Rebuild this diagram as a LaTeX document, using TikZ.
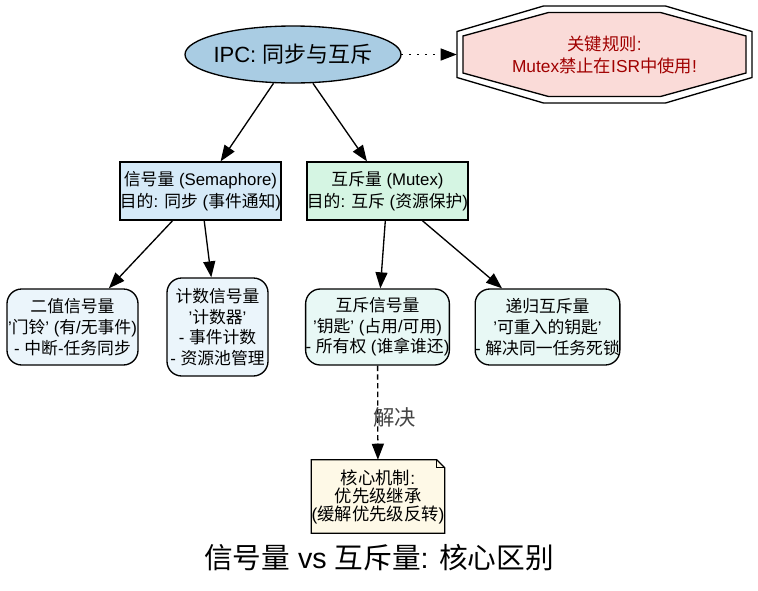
\documentclass[tikz,border=0pt]{standalone}
\usepackage{fontspec}
\setmainfont{Liberation Sans}
\newfontfamily\cjk{Noto Sans CJK SC}
\XeTeXinterchartokenstate=1
\newXeTeXintercharclass\hanclass
\count255="4E00
\loop\XeTeXcharclass\count255=\hanclass\ifnum\count255<"9FFF \advance\count255 by 1 \repeat
\XeTeXinterchartoks 0 \hanclass = {\begingroup\cjk}
\XeTeXinterchartoks 4095 \hanclass = {\begingroup\cjk}
\XeTeXinterchartoks \hanclass 0 = {\endgroup}
\XeTeXinterchartoks \hanclass 4095 = {\endgroup}
\usetikzlibrary{arrows.meta,backgrounds}
\definecolor{ipcblue}{HTML}{A9CCE3}
\definecolor{semblue}{HTML}{D6EAF8}
\definecolor{mutgreen}{HTML}{D5F5E3}
\definecolor{semleaf}{HTML}{EBF5FB}
\definecolor{mutleaf}{HTML}{E8F8F5}
\definecolor{rulepink}{HTML}{FADBD8}
\definecolor{rulered}{HTML}{A00000}
\definecolor{notecream}{HTML}{FEF9E7}
\definecolor{labelgray}{HTML}{444444}

\begin{document}
\begin{tikzpicture}[x=0.75pt,y=-0.75pt,>={Triangle[length=12pt,width=9pt]}]
\tikzstyle{every node}=[inner sep=0pt,align=center]
\tikzstyle{edge}=[->,line width=1pt]
\tikzstyle{kindbox}=[draw,line width=1pt,minimum height=43.5pt,font=\fontsize{12.6}{16.5}\selectfont]
\tikzstyle{leaf}=[draw,line width=1pt,rounded corners=11pt,minimum height=57pt,font=\fontsize{12.6}{15.5}\selectfont]
\useasboundingbox (0,0) rectangle (758,590);
\node[minimum width=162pt,minimum height=42.75pt,font=\fontsize{16.5}{20}\selectfont] (ipc) at (293,54.5) {IPC: 同步与互斥};
\node[minimum width=221.25pt,minimum height=72.75pt,text=rulered,font=\fontsize{13}{16.5}\selectfont] (rule) at (604.5,54.5) {关键规则:\\Mutex禁止在ISR中使用!};
\node[kindbox,fill=semblue,minimum width=120.75pt] (sema) at (200.5,191) {信号量 (Semaphore)\\目的: 同步 (事件通知)};
\node[kindbox,fill=mutgreen,minimum width=117.75pt] (mutex) at (387.5,191) {互斥量 (Mutex)\\目的: 互斥 (资源保护)};
\node[leaf,fill=semleaf,minimum width=98.25pt] (binsem) at (72.5,327) {二值信号量\\'门铃' (有/无事件)\\- 中断-任务同步};
\node[leaf,fill=semleaf,minimum width=75.75pt,minimum height=73.5pt] (cntsem) at (217.5,327) {计数信号量\\'计数器'\\- 事件计数\\- 资源池管理};
\node[leaf,fill=mutleaf,minimum width=107.25pt] (mutsem) at (377.5,327) {互斥信号量\\'钥匙' (占用/可用)\\- 所有权 (谁拿谁还)};
\node[leaf,fill=mutleaf,minimum width=105.75pt] (recmut) at (547.5,327) {递归互斥量\\'可重入的钥匙'\\- 解决同一任务死锁};
\node[minimum width=97.5pt,minimum height=54.75pt,font=\fontsize{13}{13.5}\selectfont] (core) at (378,496.5) {核心机制:\\优先级继承\\(缓解优先级反转)};
\node[font=\fontsize{21.5}{24}\selectfont] (title) at (379,558) {信号量 vs 互斥量: 核心区别};
\begin{scope}[on background layer]
\filldraw[line width=1pt,fill=ipcblue] (ipc.center) ellipse [x radius=108,y radius=28.5];
\draw[line width=1pt,fill=white] ([shift={(-61,-48.5)}]rule.center) -- ([shift={(61,-48.5)}]rule.center) -- ([shift={(147.5,-23)}]rule.center) -- ([shift={(147.5,23)}]rule.center) -- ([shift={(61,48.5)}]rule.center) -- ([shift={(-61,48.5)}]rule.center) -- ([shift={(-147.5,23)}]rule.center) -- ([shift={(-147.5,-23)}]rule.center) -- cycle;
\draw[line width=1pt,fill=rulepink] ([shift={(-56,-42)}]rule.center) -- ([shift={(56,-42)}]rule.center) -- ([shift={(141.5,-18.5)}]rule.center) -- ([shift={(141.5,18.5)}]rule.center) -- ([shift={(56,42)}]rule.center) -- ([shift={(-56,42)}]rule.center) -- ([shift={(-141.5,18.5)}]rule.center) -- ([shift={(-141.5,-18.5)}]rule.center) -- cycle;
\filldraw[line width=1pt,fill=notecream] (core.north west) -- ([xshift=-6pt]core.north east) -- ([yshift=-6pt]core.north east) -- (core.south east) -- (core.south west) -- cycle;
\draw[line width=0.8pt] ([xshift=-6pt]core.north east) |- ([yshift=-6pt]core.north east);
\end{scope}
\draw[edge,dash pattern=on 1pt off 5pt] (ipc) -- (rule);
\draw[edge] (ipc) -- (sema);
\draw[edge] (ipc) -- (mutex);
\draw[edge] (sema) -- (binsem);
\draw[edge] (sema) -- (cntsem);
\draw[edge] (mutex) -- (mutsem);
\draw[edge] (mutex) -- (recmut);
\draw[edge,dash pattern=on 4pt off 2.5pt] (mutsem) -- node[pos=0.55,xshift=12.75pt,text=labelgray,font=\fontsize{16}{18}\selectfont] {解决} (core);
\end{tikzpicture}
\end{document}
